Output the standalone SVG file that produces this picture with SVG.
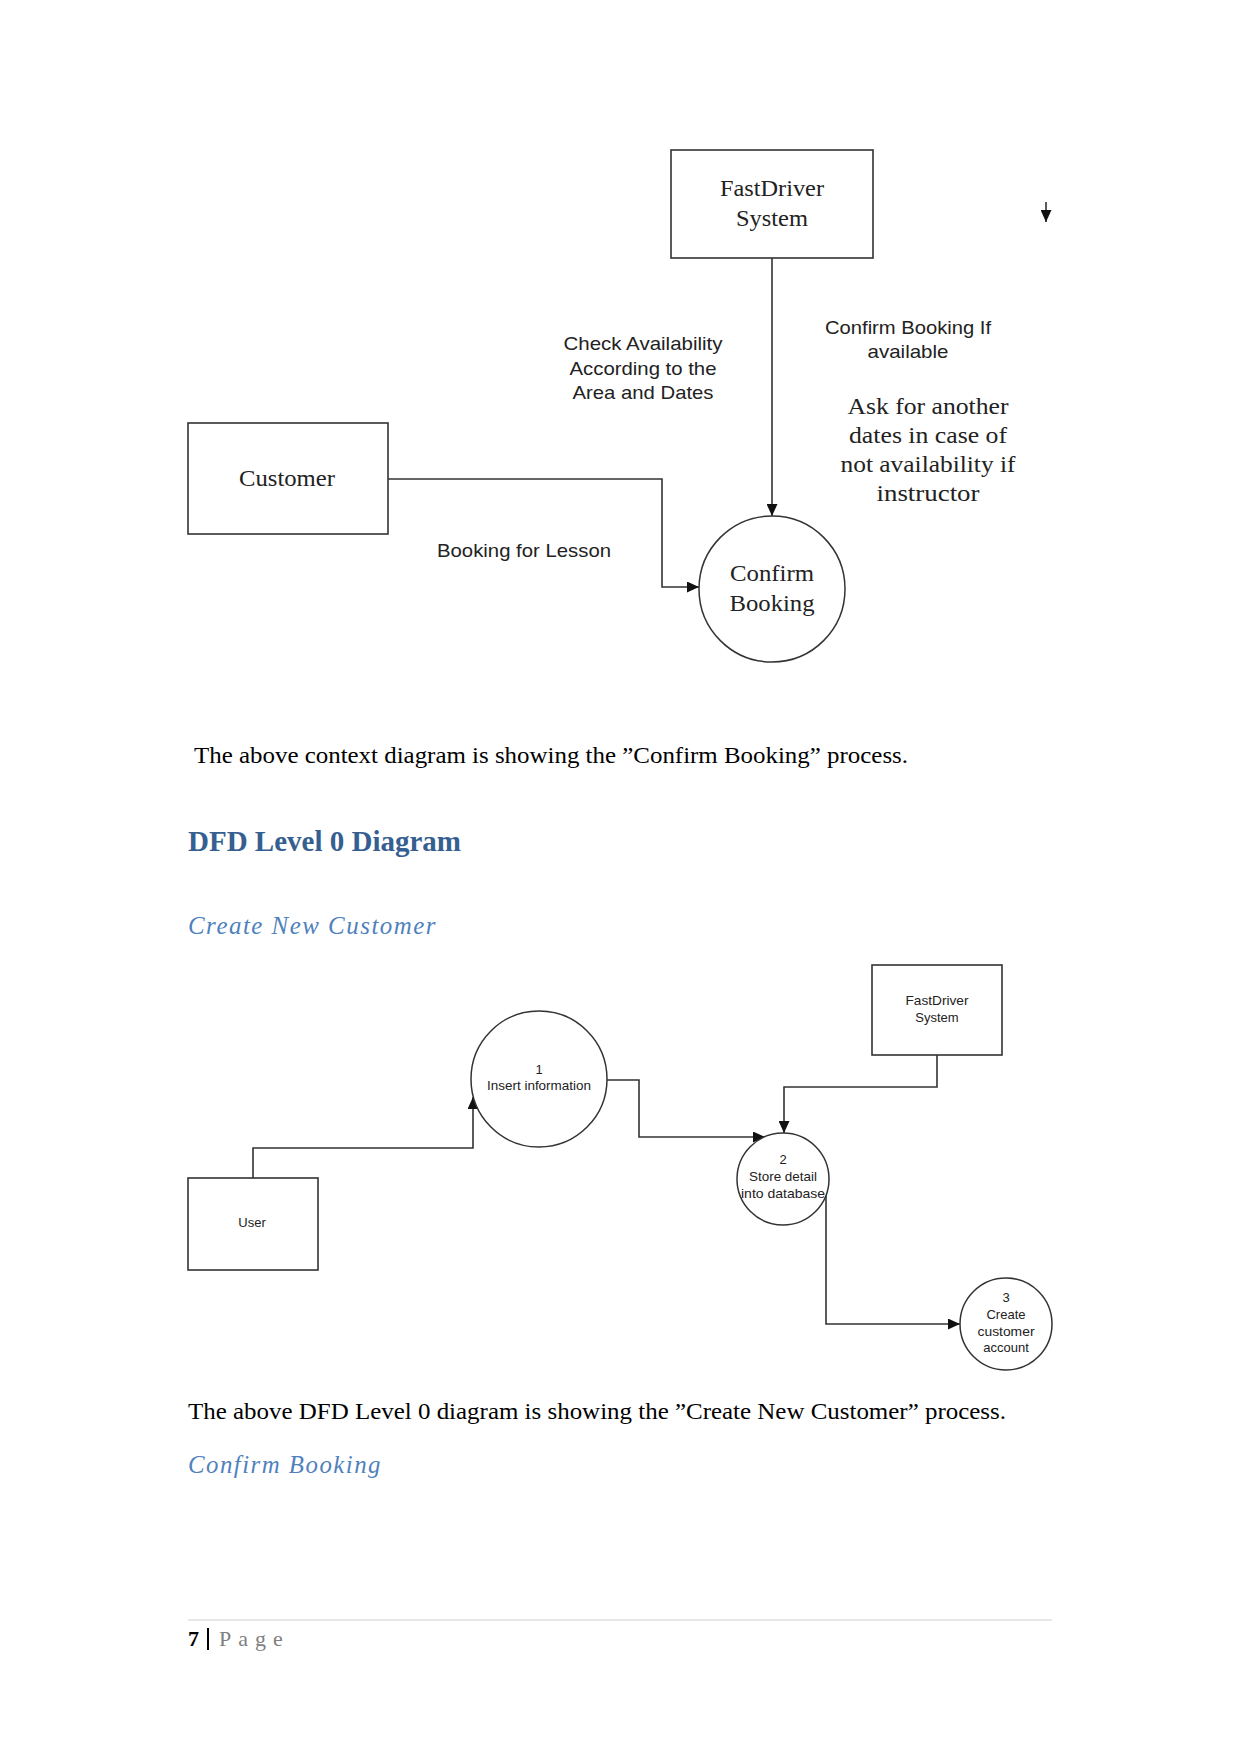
<svg xmlns="http://www.w3.org/2000/svg" width="1241" height="1754" viewBox="0 0 1241 1754">
<defs>
<style>
.box{fill:#fff;stroke:#333;stroke-width:1.6}
.proc{fill:#fff;stroke:#333;stroke-width:1.5}
.conn{fill:none;stroke:#333;stroke-width:1.6}
.serifL{font-family:"Liberation Serif","Times New Roman",serif;font-size:24px;fill:#222;text-anchor:middle}
.sansL{font-family:"Liberation Sans",Arial,sans-serif;font-size:19px;fill:#222;text-anchor:middle}
.sansS{font-family:"Liberation Sans",Arial,sans-serif;font-size:13px;fill:#222;text-anchor:middle}
.body{font-family:"Liberation Serif","Times New Roman",serif;font-size:24px;fill:#000}
.h1{font-family:"Liberation Serif","Times New Roman",serif;font-size:29px;font-weight:bold;fill:#365F91}
.h2{font-family:"Liberation Serif","Times New Roman",serif;font-size:25px;font-style:italic;fill:#4F81BD;letter-spacing:1.5px}
</style>
<marker id="arr" markerUnits="userSpaceOnUse" markerWidth="13" markerHeight="11" refX="12" refY="5.5" orient="auto">
<path d="M0,0 L12,5.5 L0,11 Z" fill="#111"/>
</marker>
</defs>
<rect width="1241" height="1754" fill="#fff"/>

<!-- Context diagram -->
<g id="connectors-top">
<line class="conn" x1="772" y1="258" x2="772" y2="516" marker-end="url(#arr)"/>
<path class="conn" d="M388,479 H662 V587 H699" marker-end="url(#arr)"/>
<line class="conn" x1="1046" y1="202" x2="1046" y2="222" marker-end="url(#arr)"/>
</g>
<g id="fastdriver-top">
<rect class="box" x="671" y="150" width="202" height="108"/>
<text class="serifL" x="772" y="196" textLength="104" lengthAdjust="spacingAndGlyphs">FastDriver</text>
<text class="serifL" x="772" y="226" textLength="72" lengthAdjust="spacingAndGlyphs">System</text>
</g>
<g id="customer">
<rect class="box" x="188" y="423" width="200" height="111"/>
<text class="serifL" x="287" y="486" textLength="96" lengthAdjust="spacingAndGlyphs">Customer</text>
</g>
<g id="confirm-booking">
<circle class="proc" cx="772" cy="589" r="73"/>
<text class="serifL" x="772" y="581" textLength="84" lengthAdjust="spacingAndGlyphs">Confirm</text>
<text class="serifL" x="772" y="611" textLength="85" lengthAdjust="spacingAndGlyphs">Booking</text>
</g>
<g id="labels-top">
<text class="sansL" x="643" y="350" textLength="159" lengthAdjust="spacingAndGlyphs">Check Availability</text>
<text class="sansL" x="643" y="375" textLength="147" lengthAdjust="spacingAndGlyphs">According to the</text>
<text class="sansL" x="643" y="399" textLength="141" lengthAdjust="spacingAndGlyphs">Area and Dates</text>
<text class="sansL" x="908" y="334" textLength="166" lengthAdjust="spacingAndGlyphs">Confirm Booking If</text>
<text class="sansL" x="908" y="358" textLength="81" lengthAdjust="spacingAndGlyphs">available</text>
<text class="serifL" x="928" y="414" textLength="161" lengthAdjust="spacingAndGlyphs">Ask for another</text>
<text class="serifL" x="928" y="443" textLength="158" lengthAdjust="spacingAndGlyphs">dates in case of</text>
<text class="serifL" x="928" y="472" textLength="175" lengthAdjust="spacingAndGlyphs">not availability if</text>
<text class="serifL" x="928" y="501" textLength="103" lengthAdjust="spacingAndGlyphs">instructor</text>
<text class="sansL" x="524" y="557" textLength="174" lengthAdjust="spacingAndGlyphs">Booking for Lesson</text>
</g>

<text class="body" x="194" y="763" textLength="714" lengthAdjust="spacingAndGlyphs">The above context diagram is showing the ”Confirm Booking” process.</text>
<text class="h1" x="188" y="851" textLength="273" lengthAdjust="spacingAndGlyphs">DFD Level 0 Diagram</text>
<text class="h2" x="188" y="934" textLength="249" lengthAdjust="spacingAndGlyphs">Create New Customer</text>

<!-- DFD Level 0 -->
<g id="connectors-dfd">
<path class="conn" d="M253,1178 V1148 H473 V1097" marker-end="url(#arr)"/>
<path class="conn" d="M607,1080 H639 V1137 H765" marker-end="url(#arr)"/>
<path class="conn" d="M937,1055 V1087 H784 V1133" marker-end="url(#arr)"/>
<path class="conn" d="M826,1193 V1324 H960" marker-end="url(#arr)"/>
</g>
<g id="fastdriver-dfd">
<rect class="box" x="872" y="965" width="130" height="90"/>
<text class="sansS" x="937" y="1005" textLength="63" lengthAdjust="spacingAndGlyphs">FastDriver</text>
<text class="sansS" x="937" y="1022">System</text>
</g>
<g id="user">
<rect class="box" x="188" y="1178" width="130" height="92"/>
<text class="sansS" x="252" y="1227">User</text>
</g>
<g id="proc1">
<circle class="proc" cx="539" cy="1079" r="68"/>
<text class="sansS" x="539" y="1074">1</text>
<text class="sansS" x="539" y="1090" textLength="104" lengthAdjust="spacingAndGlyphs">Insert information</text>
</g>
<g id="proc2">
<circle class="proc" cx="783" cy="1179" r="46"/>
<text class="sansS" x="783" y="1164">2</text>
<text class="sansS" x="783" y="1181" textLength="68" lengthAdjust="spacingAndGlyphs">Store detail</text>
<text class="sansS" x="783" y="1198" textLength="84" lengthAdjust="spacingAndGlyphs">into database</text>
</g>
<g id="proc3">
<circle class="proc" cx="1006" cy="1324" r="46"/>
<text class="sansS" x="1006" y="1302">3</text>
<text class="sansS" x="1006" y="1319">Create</text>
<text class="sansS" x="1006" y="1336" textLength="57" lengthAdjust="spacingAndGlyphs">customer</text>
<text class="sansS" x="1006" y="1352">account</text>
</g>

<text class="body" x="188" y="1419" textLength="818" lengthAdjust="spacingAndGlyphs">The above DFD Level 0 diagram is showing the ”Create New Customer” process.</text>
<text class="h2" x="188" y="1473" textLength="194" lengthAdjust="spacingAndGlyphs">Confirm Booking</text>

<line x1="188" y1="1620" x2="1052" y2="1620" stroke="#d0d0d0" stroke-width="1.2"/>
<text x="188" y="1646" font-family="Liberation Serif, serif" font-size="22" font-weight="bold" fill="#000">7</text>
<rect x="207" y="1628" width="2" height="22" fill="#000"/>
<text x="219" y="1646" font-family="Liberation Serif, serif" font-size="22" fill="#7f7f7f" letter-spacing="7">Page</text>
</svg>
